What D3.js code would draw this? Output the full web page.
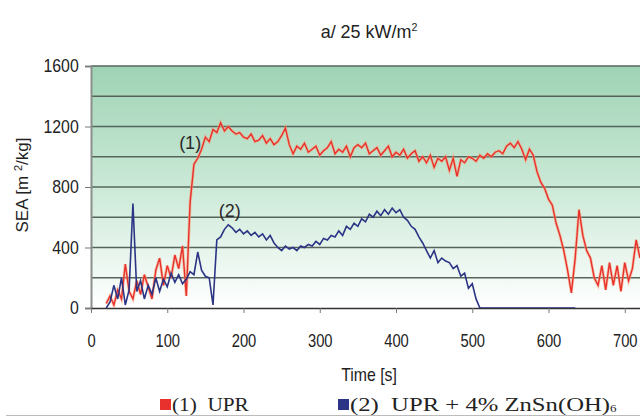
<!DOCTYPE html>
<html><head><meta charset="utf-8">
<script src="https://cdn.jsdelivr.net/npm/d3@7/dist/d3.min.js"></script>
<style>body{margin:0;background:#fff}svg{display:block}</style>
</head><body><svg id="c" width="640" height="416"></svg>
<script>
const xTicks = [0,100,200,300,400,500,600,700];
const yTicks = [0,400,800,1200,1600];
const yGrid = [200,400,600,800,1000,1200,1400,1600];
const redStart = 20, blueStart = 20, sampleStep = 5;
const redSEA = [30,80,20,120,60,290,110,60,180,90,220,140,60,250,330,150,280,200,350,260,410,80,700,950,990,1050,1130,1100,1180,1160,1225,1170,
1200,1170,1150,1160,1130,1120,1150,1100,1110,1140,
1090,1120,1080,1100,1140,1190,1080,1020,1070,1050,
1090,1030,1050,1070,1010,1040,1060,1100,1020,1050,
1030,1070,1000,1060,1080,1060,1090,1020,1040,1060,
1010,1040,1070,1000,1030,1010,1050,990,1020,1040,
970,1000,960,1010,930,990,970,1000,910,990,
870,980,960,1000,990,970,1010,990,1020,1000,
1030,1040,1020,1070,1090,1060,1100,1050,980,1050,
1010,
900,830,790,720,680,560,480,380,250,100,330,650,480,380,330,200,150,280,120,300,150,280,110,300,180,260,450,330];
const blueSEA = [0,40,150,60,200,20,120,690,110,180,60,150,90,200,110,190,140,230,170,220,160,190,240,220,370,250,210,200,20,450,470,520,550,530,500,520,490,510,480,500,470,490,450,480,430,400,380,410,390,400,380,410,400,420,410,440,420,460,450,480,470,510,480,540,520,560,540,590,570,620,600,640,610,650,620,660,630,650,600,580,540,520,470,430,380,330,380,300,330,310,300,260,280,210,230,130,160,60,0,0,0,0,0,0,0,0,0,0,0,0,0,0,0,0,0,0,0,0,0,0,0,0,0,0];
const seriesNames = ["(1)  UPR", "(2)  UPR + 4% ZnSn(OH)"];
const seriesColors = ["#e8302c", "#2c3585"];

const svg = d3.select("#c");
const sans = "'Liberation Sans',Arial,sans-serif";
const serif = "'Liberation Serif','Times New Roman',serif";
const m = {l:91, r:640, t:66, b:308};
const x = d3.scaleLinear().domain([0,720]).range([m.l, m.r]);
const y = d3.scaleLinear().domain([0,1600]).range([m.b, m.t]);

const defs = svg.append("defs");
const g = defs.append("linearGradient").attr("id","bg").attr("x1",0).attr("y1",0).attr("x2",0).attr("y2",1);
g.append("stop").attr("offset","0%").attr("stop-color","#9fd3b5");
g.append("stop").attr("offset","45%").attr("stop-color","#c6e7d3");
g.append("stop").attr("offset","100%").attr("stop-color","#ffffff");
defs.append("clipPath").attr("id","clip").append("rect").attr("x",m.l).attr("y",m.t-5).attr("width",m.r-m.l).attr("height",m.b-m.t+5);

svg.append("rect").attr("x",m.l).attr("y",m.t).attr("width",m.r-m.l).attr("height",m.b-m.t).attr("fill","url(#bg)");

svg.append("g").selectAll("line").data(yGrid).join("line")
  .attr("x1",m.l).attr("x2",m.r).attr("y1",d=>y(d)).attr("y2",d=>y(d))
  .attr("stroke","#56645b").attr("stroke-width",1.6);

// axes
const yAxis = svg.append("g").attr("transform",`translate(${m.l},0)`)
  .call(d3.axisLeft(y).tickValues(yTicks).tickFormat(d3.format("d")).tickSize(6).tickPadding(8));
yAxis.select(".domain").attr("stroke","#8a8f8c").attr("stroke-width",2);
yAxis.selectAll(".tick line").attr("stroke","#777");
yAxis.selectAll("text").attr("font-family",sans).attr("font-size",18).attr("fill","#222").attr("transform","scale(0.88,1)");

const xAxis = svg.append("g").attr("transform",`translate(0,${m.b})`)
  .call(d3.axisBottom(x).tickValues(xTicks).tickFormat(d3.format("d")).tickSize(5).tickPadding(21).tickSizeOuter(0));
xAxis.select(".domain").attr("stroke","#333").attr("stroke-width",1.6);
xAxis.selectAll(".tick line").attr("stroke","#777");
xAxis.selectAll("text").attr("font-family",sans).attr("font-size",18).attr("fill","#222").attr("transform","scale(0.82,1)");

const line = d3.line().x(d=>x(d[0])).y(d=>y(d[1]));
const redData = redSEA.map((v,i)=>[redStart+i*sampleStep, v]);
const blueData = blueSEA.map((v,i)=>[blueStart+i*sampleStep, v]);
const plot = svg.append("g").attr("clip-path","url(#clip)");
plot.append("path").datum(redData).attr("d",line).attr("fill","none").attr("stroke","#f6a27c").attr("stroke-width",3).attr("opacity",0.6);
plot.append("path").datum(redData).attr("d",line).attr("fill","none").attr("stroke",seriesColors[0]).attr("stroke-width",1.4);
plot.append("path").datum(blueData).attr("d",line).attr("fill","none").attr("stroke",seriesColors[1]).attr("stroke-width",1.6);

// labels in plot
svg.append("text").attr("x",x(130)).attr("y",y(1050)).attr("text-anchor","middle").attr("font-family",sans).attr("font-size",18).attr("fill","#2a2a2a").text("(1)");
svg.append("text").attr("x",x(182)).attr("y",y(600)).attr("text-anchor","middle").attr("font-family",sans).attr("font-size",18).attr("fill","#2a2a2a").text("(2)");

// title
const t = svg.append("text").attr("transform","translate(369,38) scale(0.97,1)").attr("text-anchor","middle").attr("font-family",sans).attr("font-size",18.5).attr("fill","#222");
t.append("tspan").text("a/ 25 kW/m");
t.append("tspan").attr("dy",-7).attr("font-size",11).text("2");

// y title
const yt = svg.append("text").attr("transform","translate(28,185) rotate(-90)").attr("text-anchor","middle").attr("font-family",sans).attr("font-size",17).attr("fill","#222");
yt.append("tspan").text("SEA [m ");
yt.append("tspan").attr("dy",-6).attr("font-size",11).text("2");
yt.append("tspan").attr("dy",6).text("/kg]");

// x title
svg.append("text").attr("transform","translate(369,381) scale(0.88,1)").attr("text-anchor","middle").attr("font-family",sans).attr("font-size",18).attr("fill","#222").text("Time [s]");

// legend
const legX = [160, 338];
const legScale = [1.12, 1.3];
const leg = svg.append("g");
seriesNames.forEach((n,i)=>{
  leg.append("rect").attr("x",legX[i]).attr("y",399).attr("width",11).attr("height",11).attr("fill",seriesColors[i]);
  const tx = leg.append("text").attr("transform",`translate(${legX[i]+12},411) scale(${legScale[i]},1)`).attr("font-family",serif).attr("font-size",19).attr("fill","#222").attr("xml:space","preserve").text(n);
  if(i===1) tx.append("tspan").attr("font-size",10).attr("dy",1).text("6");
});
svg.append("line").attr("x1",6).attr("x2",640).attr("y1",415.5).attr("y2",415.5).attr("stroke","#bbb").attr("stroke-width",1);
</script></body></html>
